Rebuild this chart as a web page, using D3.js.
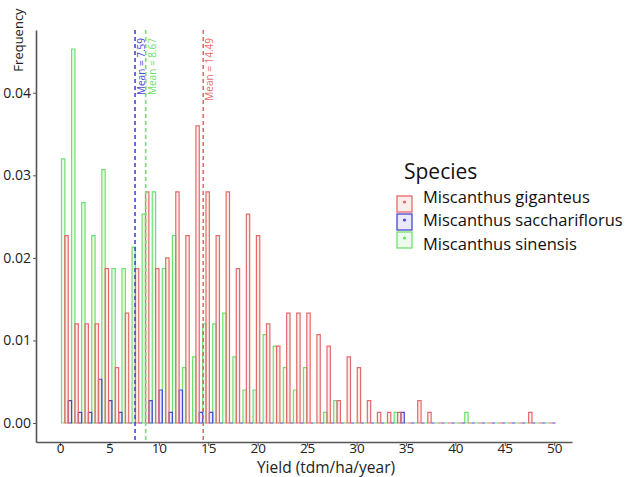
<!DOCTYPE html>
<html>
<head>
<meta charset="utf-8">
<script src="https://cdn.jsdelivr.net/npm/d3@7"></script>
<style>
  body { margin: 0; background: #fff; }
  text { font-family: "Open Sans", "Noto Sans", sans-serif; }
</style>
</head>
<body>
<div id="chart"></div>
<script>
// ---------- data ----------
var species = ["Miscanthus giganteus", "Miscanthus sacchariflorus", "Miscanthus sinensis"];
var colors = ["#e46a6a", "#4848d2", "#6fe06f"];

// histogram: 49 bins, left edge binStart, width binWidth
var binStart = 0.15, binWidth = 1.02;

var giganteus = [0.0227, 0.0120, 0.0120, 0.0120, 0.0187, 0.0067, 0.0133, 0.0187, 0.0280, 0.0187,
                 0.0200, 0.0280, 0.0227, 0.0360, 0.0280, 0.0227, 0.0280, 0.0187, 0.0253, 0.0227,
                 0.0120, 0.0093, 0.0133, 0.0133, 0.0133, 0.0107, 0.0093, 0.0027, 0.0080, 0.0067,
                 0.0027, 0.0013, 0.0013, 0.0013, 0, 0.0027, 0.0013, 0, 0, 0,
                 0, 0, 0, 0, 0, 0, 0.0013, 0, 0];
var sacchariflorus = [0.0027, 0.0013, 0.0013, 0.0053, 0.0027, 0.0013, 0, 0, 0.0027, 0.0040,
                 0.0013, 0.0040, 0, 0.0013, 0.0013, 0, 0, 0, 0, 0,
                 0, 0, 0, 0, 0, 0, 0, 0, 0, 0,
                 0, 0, 0, 0.0013, 0, 0, 0, 0, 0, 0,
                 0, 0, 0, 0, 0, 0, 0, 0, 0];
var sinensis = [0.0320, 0.0453, 0.0267, 0.0227, 0.0307, 0.0187, 0.0187, 0.0213, 0.0253, 0.0280,
                 0.0187, 0.0227, 0.0067, 0.0080, 0.0120, 0.0120, 0.0133, 0.0080, 0.0040, 0.0040,
                 0.0107, 0.0093, 0.0067, 0.0040, 0.0067, 0, 0.0013, 0.0027, 0, 0,
                 0, 0, 0, 0.0013, 0, 0, 0, 0, 0, 0,
                 0.0013, 0, 0, 0, 0, 0, 0, 0, 0];

var means = [14.49, 7.59, 8.67];
var meanLabels = ["Mean = 14.49", "Mean = 7.59", "Mean = 8.67"];

var xTicks = [0, 5, 10, 15, 20, 25, 30, 35, 40, 45, 50];
var yTicks = [0, 0.01, 0.02, 0.03, 0.04];

// position of each species inside a bin (left to right: sinensis, giganteus, sacchariflorus)
var slot = [1, 2, 0];
var series = [giganteus, sacchariflorus, sinensis];

// ---------- setup ----------
var width = 631, height = 477;

var svg = d3.select("#chart").append("svg")
    .attr("width", width)
    .attr("height", height);

var x = d3.scaleLinear().domain([-2.43, 51.8]).range([36, 572]);
var y = d3.scaleLinear().domain([-0.0023, 0.0476]).range([442, 30]);

// ---------- bars ----------
var bars = [];
series.forEach(function(vals, s) {
    vals.forEach(function(v, k) {
        var x0 = binStart + k * binWidth + slot[s] * binWidth / 3;
        bars.push({s: s, x0: x0, x1: x0 + binWidth / 3, v: v});
    });
});

// draw order: sinensis, sacchariflorus, giganteus
var drawOrder = [2, 1, 0];
drawOrder.forEach(function(s) {
    svg.append("g").selectAll("path")
        .data(bars.filter(function(d) { return d.s === s; }))
        .enter()
        .append("path")
        .attr("d", function(d) {
            var a = x(d.x0), b = x(d.x1), y0 = y(0), y1 = y(d.v);
            return "M" + a + "," + y0 + "V" + y1 + "H" + b + "V" + y0 + "Z";
        })
        .style("fill", colors[s])
        .style("fill-opacity", 0.12)
        .style("stroke", colors[s])
        .style("stroke-width", 1.2);
});

// ---------- mean lines ----------
means.forEach(function(m, i) {
    svg.append("line")
        .attr("x1", x(m)).attr("x2", x(m))
        .attr("y1", y.range()[1]).attr("y2", y.range()[0])
        .style("stroke", colors[i])
        .style("stroke-width", 1.6)
        .style("stroke-dasharray", "4,3");

    svg.append("text")
        .attr("transform", "translate(" + (x(m) + 10) + "," + 38 + ") rotate(-90)")
        .attr("text-anchor", "end")
        .style("font-size", "10px")
        .style("fill", colors[i])
        .text(meanLabels[i]);
});

// ---------- axes ----------
var xAxis = svg.append("g")
    .attr("transform", "translate(0," + 442 + ")")
    .call(d3.axisBottom(x).tickValues(xTicks).tickSize(4).tickSizeOuter(0));

var yAxis = svg.append("g")
    .attr("transform", "translate(" + 36 + ",0)")
    .call(d3.axisLeft(y).tickValues(yTicks).tickSize(3).tickSizeOuter(0)
        .tickFormat(d3.format(".2f")));

[xAxis, yAxis].forEach(function(ax) {
    ax.select(".domain").style("stroke", "#555").style("stroke-width", 1.6);
    ax.selectAll(".tick line").style("stroke", "#555");
    ax.selectAll(".tick text")
        .style("font-family", "'Open Sans', sans-serif")
        .style("font-size", "14px")
        .style("fill", "#222");
});
xAxis.selectAll(".tick text").attr("y", 1).attr("dy", "0.71em").style("font-size", "13.5px");
yAxis.selectAll(".tick text").attr("x", -5);

// axis titles
svg.append("text")
    .attr("x", 326).attr("y", 472.5)
    .attr("text-anchor", "middle")
    .style("font-size", "15.5px")
    .style("fill", "#222")
    .text("Yield (tdm/ha/year)");

svg.append("text")
    .attr("transform", "translate(23,40) rotate(-90)")
    .attr("text-anchor", "middle")
    .style("font-size", "13px")
    .style("fill", "#222")
    .text("Frequency");

// ---------- legend ----------
var legend = svg.append("g");

legend.append("text")
    .attr("x", 404).attr("y", 179)
    .style("font-size", "21px")
    .style("fill", "#111")
    .text("Species");

var keyY = [196, 214, 232];
var textY = [203, 226, 250];

species.forEach(function(name, i) {
    legend.append("rect")
        .attr("x", 397).attr("y", keyY[i])
        .attr("width", 15).attr("height", 16)
        .style("fill", colors[i]).style("fill-opacity", 0.12)
        .style("stroke", colors[i]).style("stroke-width", 1.3);
    legend.append("circle")
        .attr("cx", 404.5).attr("cy", keyY[i] + 6)
        .attr("r", 1.6)
        .style("fill", colors[i]);
    legend.append("text")
        .attr("x", 423).attr("y", textY[i])
        .style("font-size", "16.5px")
        .style("fill", "#111")
        .text(name);
});
</script>
</body>
</html>
